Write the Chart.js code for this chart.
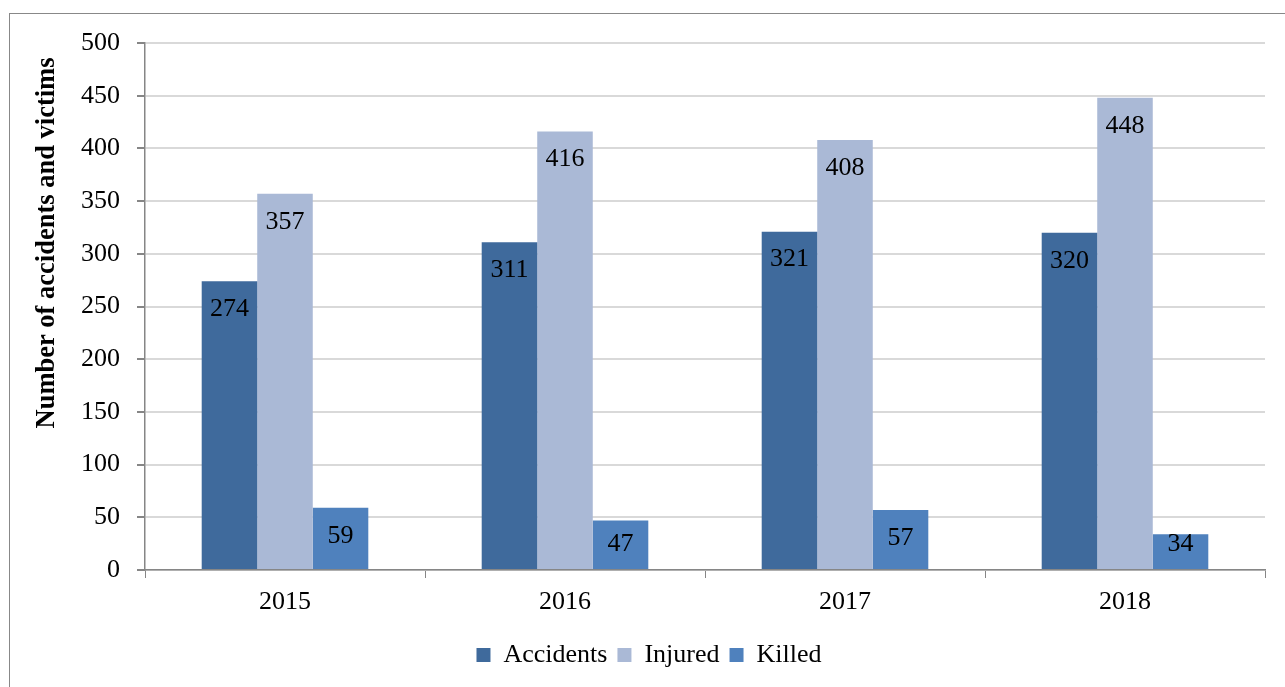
<!DOCTYPE html>
<html>
<head>
<meta charset="utf-8">
<script src="https://cdn.jsdelivr.net/npm/chart.js@4"></script>
<style>
  html, body { margin: 0; padding: 0; background: #fff; }
  #wrap { position: relative; width: 1285px; height: 687px; overflow: hidden; }
  #frame { position: absolute; left: 9px; top: 13px; width: 1300px; height: 700px; border: 1px solid #888; box-sizing: border-box; }
  #accidentes { position: absolute; left: 0; top: 0; }
</style>
</head>
<body>
<div id="wrap">
  <div id="frame"></div>
  <canvas id="accidentes" width="1285" height="687"></canvas>
</div>
<script>
const anos = ['2015', '2016', '2017', '2018'];
const accidents = [274, 311, 321, 320];
const injured = [357, 416, 408, 448];
const killed = [59, 47, 57, 34];
const yTicks = [0, 50, 100, 150, 200, 250, 300, 350, 400, 450, 500];
const tituloY = 'Number of accidents and victims';

const fonte = 'Liberation Serif, Times New Roman, serif';

// rótulos dentro da barra, perto do topo (sem sair pela base)
const rotulos = {
  id: 'rotulos',
  afterDatasetsDraw(chart) {
    const ctx = chart.ctx;
    ctx.save();
    ctx.font = '26px ' + fonte;
    ctx.fillStyle = '#000';
    ctx.textAlign = 'center';
    ctx.textBaseline = 'middle';
    chart.data.datasets.forEach((ds, i) => {
      chart.getDatasetMeta(i).data.forEach((bar, j) => {
        const y = Math.min(bar.y + 28, bar.base - 25);
        ctx.fillText(ds.data[j], bar.x, y);
      });
    });
    // título do eixo y (o Excel não o centra na área do gráfico)
    ctx.font = 'bold 26.5px ' + fonte;
    ctx.translate(47, 243);
    ctx.rotate(-Math.PI / 2);
    ctx.fillText(tituloY, 0, 0);
    ctx.restore();
  }
};

const ctx = document.getElementById('accidentes').getContext('2d');
new Chart(ctx, {
  type: 'bar',
  data: {
    labels: anos,
    datasets: [{
      label: 'Accidents',
      data: accidents,
      backgroundColor: '#3F6A9C'
    }, {
      label: 'Injured',
      data: injured,
      backgroundColor: '#AAB9D6'
    }, {
      label: 'Killed',
      data: killed,
      backgroundColor: '#4F81BD'
    }]
  },
  options: {
    responsive: false,
    animation: false,
    layout: { padding: { top: 43, right: 20, left: 33, bottom: 9 } },
    datasets: { bar: { categoryPercentage: 0.595, barPercentage: 1 } },
    scales: {
      x: {
        afterFit: s => { s.height = 62; },
        grid: { drawOnChartArea: false, tickLength: 8, color: '#868686', offset: true },
        border: { color: '#868686', width: 1.5 },
        ticks: { color: '#000', font: { family: fonte, size: 26 }, padding: 9 }
      },
      y: {
        min: 0,
        max: 500,
        afterFit: s => { s.width = 112; },
        afterBuildTicks: s => { s.ticks = yTicks.map(v => ({ value: v })); },
        grid: { color: '#D9D9D9', lineWidth: 2, tickLength: 8, tickColor: '#868686' },
        border: { color: '#868686', width: 1.5 },
        ticks: { color: '#000', font: { family: fonte, size: 26 }, padding: 17 }
      }
    },
    plugins: {
      legend: {
        position: 'bottom',
        labels: {
          color: '#000',
          font: { family: fonte, size: 26 },
          boxWidth: 14,
          boxHeight: 14,
          padding: 10
        }
      },
      tooltip: { enabled: false }
    }
  },
  plugins: [rotulos]
});
</script>
</body>
</html>
